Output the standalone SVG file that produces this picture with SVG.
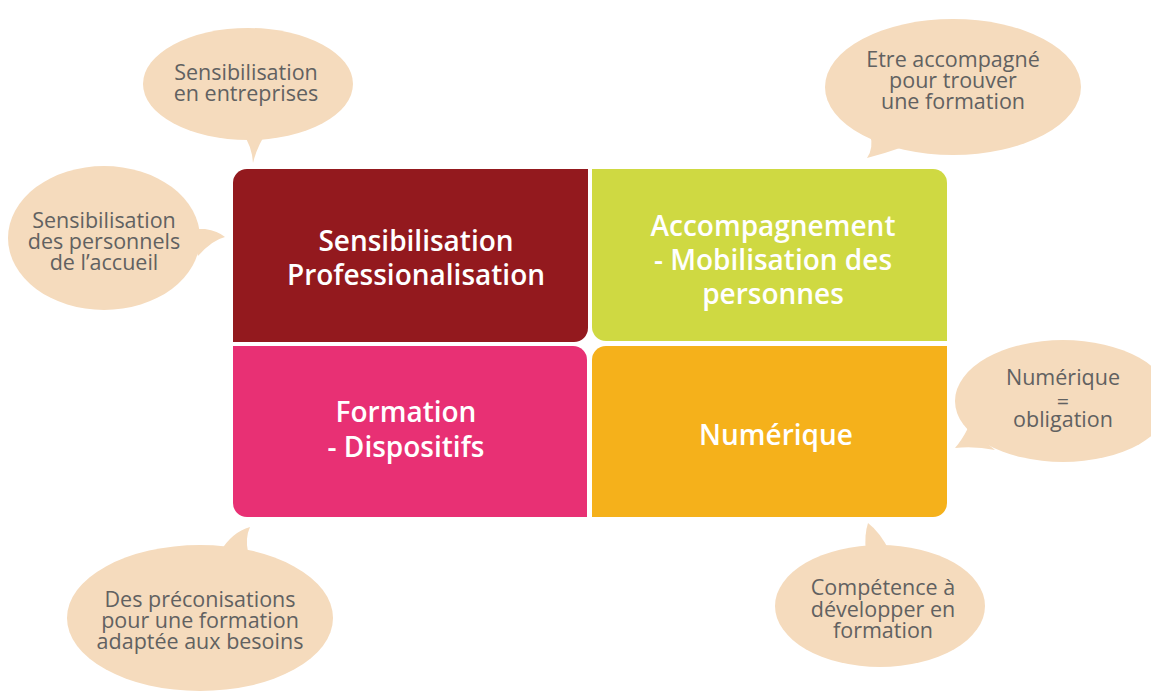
<svg xmlns="http://www.w3.org/2000/svg" width="1151" height="691" viewBox="0 0 1151 691">
<style>
.bub{fill:#F5DBBD}
.bt{font-family:"Open Sans","Liberation Sans",sans-serif;font-size:21.5px;fill:#616161;text-anchor:middle}
.qt{font-family:"Open Sans","Liberation Sans",sans-serif;font-size:28px;font-weight:600;fill:#FFFFFF;text-anchor:middle}
</style>
<rect width="1151" height="691" fill="#FFFFFF"/>
<g id="connectors"></g>
<g id="q-sensibilisation">
<path d="M247,169 H588 V328 A14,14 0 0 1 574,342 H233 V183 A14,14 0 0 1 247,169 Z" fill="#93191E"/>
<text class="qt" x="416" y="251">Sensibilisation</text>
<text class="qt" x="416" y="285">Professionalisation</text>
</g>
<g id="q-accompagnement">
<path d="M592,169 H933 A14,14 0 0 1 947,183 V341 H606 A14,14 0 0 1 592,327 Z" fill="#CFD942"/>
<text class="qt" x="773" y="236">Accompagnement</text>
<text class="qt" x="773" y="270">- Mobilisation des</text>
<text class="qt" x="773" y="304">personnes</text>
</g>
<g id="q-formation">
<path d="M233,346 H573 A14,14 0 0 1 587,360 V517 H247 A14,14 0 0 1 233,503 Z" fill="#E83074"/>
<text class="qt" x="406" y="422">Formation</text>
<text class="qt" x="406" y="457">- Dispositifs</text>
</g>
<g id="q-numerique">
<path d="M606,346 H947 V503 A14,14 0 0 1 933,517 H592 V360 A14,14 0 0 1 606,346 Z" fill="#F5B11B"/>
<text class="qt" x="776" y="445">Numérique</text>
</g>
<g id="b-entreprises">
<ellipse class="bub" cx="248" cy="84" rx="105" ry="56"/>
<path class="bub" d="M242,132 Q252,146 253,163 Q257,146 268,130 Z"/>
<text class="bt" x="246" y="80">Sensibilisation</text>
<text class="bt" x="246" y="101">en entreprises</text>
</g>
<g id="b-accueil">
<ellipse class="bub" cx="104" cy="238" rx="96" ry="72"/>
<path class="bub" d="M190,229 L205,229 Q218,231 225,237 Q212,240 198,256 Z"/>
<text class="bt" x="104" y="228">Sensibilisation</text>
<text class="bt" x="104" y="249">des personnels</text>
<text class="bt" x="104" y="270">de l’accueil</text>
</g>
<g id="b-accompagne">
<ellipse class="bub" cx="953" cy="87" rx="128" ry="68"/>
<path class="bub" d="M870,134 Q874,148 867,158 Q886,153 906,146 Z"/>
<text class="bt" x="953" y="67">Etre accompagné</text>
<text class="bt" x="953" y="88">pour trouver</text>
<text class="bt" x="953" y="109">une formation</text>
</g>
<g id="b-obligation">
<ellipse class="bub" cx="1063" cy="401" rx="108" ry="61"/>
<path class="bub" d="M968,428 Q962,440 955,448 Q975,446 995,450 Z"/>
<text class="bt" x="1063" y="385">Numérique</text>
<text class="bt" x="1063" y="409">=</text>
<text class="bt" x="1063" y="427">obligation</text>
</g>
<g id="b-preconisations">
<ellipse class="bub" cx="200" cy="618" rx="133" ry="73"/>
<path class="bub" d="M220,552 Q232,532 250,527 Q245,538 248,552 Z"/>
<text class="bt" x="200" y="607">Des préconisations</text>
<text class="bt" x="200" y="628">pour une formation</text>
<text class="bt" x="200" y="649">adaptée aux besoins</text>
</g>
<g id="b-competence">
<ellipse class="bub" cx="880" cy="606" rx="105" ry="61"/>
<path class="bub" d="M866,552 Q864,535 868,523 Q880,532 890,552 Z"/>
<text class="bt" x="883" y="595">Compétence à</text>
<text class="bt" x="883" y="617">développer en</text>
<text class="bt" x="883" y="638">formation</text>
</g>
</svg>
